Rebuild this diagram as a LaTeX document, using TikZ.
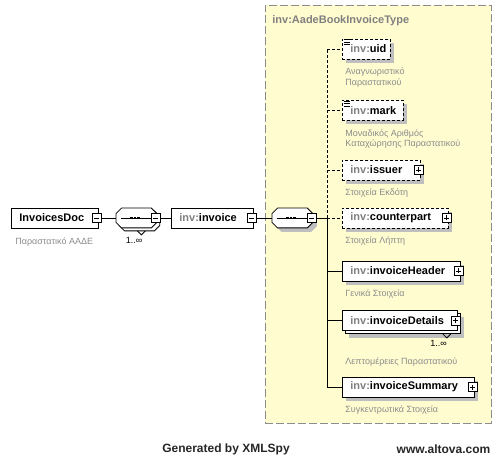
\documentclass[tikz,border=0pt]{standalone}
\usepackage{fontspec}
\setmainfont{Liberation Sans}
\usetikzlibrary{positioning,shadows}
\definecolor{panefill}{RGB}{255,252,208}
\definecolor{nsgray}{RGB}{128,128,128}
\definecolor{notegray}{RGB}{140,140,140}
\newcommand\inv{\textcolor{nsgray}{inv:}}
% octagon of the sequence compositor
\makeatletter
\pgfdeclareshape{octo}{%
	\inheritsavedanchors[from=rectangle]%
	\inheritanchorborder[from=rectangle]%
	\inheritanchor[from=rectangle]{center}%
	\inheritanchor[from=rectangle]{north}%
	\inheritanchor[from=rectangle]{south}%
	\inheritanchor[from=rectangle]{east}%
	\inheritanchor[from=rectangle]{west}%
	\inheritanchor[from=rectangle]{north east}%
	\inheritanchor[from=rectangle]{north west}%
	\inheritanchor[from=rectangle]{south east}%
	\inheritanchor[from=rectangle]{south west}%
	\backgroundpath{%
		\southwest \edef\oct@xa{\the\pgf@x}\edef\oct@ya{\the\pgf@y}%
		\northeast \edef\oct@xb{\the\pgf@x}\edef\oct@yb{\the\pgf@y}%
		\pgfpathmoveto{\pgfpoint{\oct@xa}{\oct@ya+5.5pt}}%
		\pgfpathlineto{\pgfpoint{\oct@xa+5.5pt}{\oct@ya}}%
		\pgfpathlineto{\pgfpoint{\oct@xb-5.5pt}{\oct@ya}}%
		\pgfpathlineto{\pgfpoint{\oct@xb}{\oct@ya+5.5pt}}%
		\pgfpathlineto{\pgfpoint{\oct@xb}{\oct@yb-5.5pt}}%
		\pgfpathlineto{\pgfpoint{\oct@xb-5.5pt}{\oct@yb}}%
		\pgfpathlineto{\pgfpoint{\oct@xa+5.5pt}{\oct@yb}}%
		\pgfpathlineto{\pgfpoint{\oct@xa}{\oct@yb-5.5pt}}%
		\pgfpathclose
	}%
}
\makeatother
\tikzset{%
	elem/.style = {draw,fill=white,anchor=west,minimum height=20pt,inner ysep=0pt,inner xsep=8pt,align=left,font=\fontsize{11}{12}\selectfont\bfseries},
	opt/.style = {dash pattern=on 3pt off 2pt},
	shade/.style = {drop shadow={shadow xshift=4pt,shadow yshift=-4pt,fill=black!25,opacity=1,draw=none}},
	multi/.style = {drop shadow={shadow xshift=7pt,shadow yshift=-7pt,fill=black!25,opacity=1,draw=none},copy shadow={shadow xshift=3pt,shadow yshift=-3pt}},
	sign/.style = {draw,solid,fill=white,minimum size=9pt,inner sep=0pt},
	minus/.style = {sign,path picture={\draw ([xshift=2pt]path picture bounding box.west) -- ([xshift=-2pt]path picture bounding box.east);}},
	plus/.style = {sign,path picture={\draw ([xshift=2pt]path picture bounding box.west) -- ([xshift=-2pt]path picture bounding box.east) ([yshift=2pt]path picture bounding box.south) -- ([yshift=-2pt]path picture bounding box.north);}},
	seq/.style = {octo,draw,fill=white,anchor=west,minimum width=40pt,minimum height=19pt,inner sep=0pt,
		path picture={
			\draw ([xshift=5pt]path picture bounding box.west) -- ([xshift=-5pt]path picture bounding box.east);
			\foreach \d in {-5pt,-1.5pt,2pt}
				\fill[black] ([shift={(\d-1.25pt,1.25pt)}]path picture bounding box.center) rectangle ++(2.5,2.5);
		}},
	note/.style = {text=notegray,align=left,inner sep=0pt,font=\fontsize{9}{10.5}\selectfont},
	pane/.style = {draw=black!45,dash pattern=on 8pt off 3pt,fill=panefill},
	title/.style = {text=nsgray,inner sep=0pt,font=\fontsize{11}{12}\selectfont\bfseries},
	footer/.style = {inner sep=0pt,text=black!85,font=\fontsize{12}{14}\selectfont\bfseries}
}

\begin{document}
\begin{tikzpicture}[x=1pt,y=-1pt,line width=.8pt]
	\useasboundingbox (0,0) rectangle (501,457);
	
	% complex type pane
	\node(pane)[pane,anchor=north west,minimum width=226pt,minimum height=418pt]at(265,5){};
	\node(type)[title,anchor=north west]at([shift={(7pt,-10pt)}]pane.north west){inv:AadeBookInvoiceType};
	
	\node(doc)[elem,text width=71pt]at(11,218){InvoicesDoc};
	\node(docm)[minus]at([xshift=-2pt]doc.east){};
	\node(doctxt)[note,below right=9pt and 4pt of doc.south west]{Παραστατικό ΑΑΔΕ};
	
	\node(seq1)[seq,copy shadow={shadow xshift=3pt,shadow yshift=-3pt}]at(116,218){};
	\node(seq1m)[minus]at([xshift=-1pt]seq1.east){};
	\draw ([shift={(1pt,-3pt)}]seq1.south) -- ++(4,4) -- ++(4,-4);
	\node(seq1n)[note,text=black]at(134,240){1..∞};
	
	\node(invoice)[elem,text width=66pt]at(171,218){\inv invoice};
	\node(invm)[minus]at([xshift=-2pt]invoice.east){};
	
	\node(seq2)[seq,shade]at(272,218){};
	\node(seq2m)[minus]at([xshift=-1pt]seq2.east){};
	\coordinate(rail)at(327,218);
	
	% child elements
	\node(uid)[elem,opt,shade,text width=32pt]at(342,49){\inv uid};
	\node(mark)[elem,opt,shade,text width=45pt]at(342,110.5){\inv mark};
	\node(issuer)[elem,opt,shade,text width=62pt]at(342,170){\inv issuer};
	\node(counterpart)[elem,opt,shade,text width=90pt]at(342,218){\inv counterpart};
	\node(header)[elem,shade,text width=102pt]at(342,271){\inv invoiceHeader};
	\node(details)[elem,multi,text width=99pt]at(342,320.5){\inv invoiceDetails};
	\node(summary)[elem,shade,text width=116pt]at(342,387){\inv invoiceSummary};
	\foreach \n in {issuer,counterpart,header,details,summary}
		\node[plus]at([xshift=-2pt]\n.east){};
	\foreach \n in {uid,mark}
		\foreach \d in {1pt,3.5pt,6pt}
			\draw ([shift={(1.5pt,-\d)}]\n.north west) -- ++(6,0);
	\draw ([shift={(-15pt,-3pt)}]details.south east) -- ++(4,4) -- ++(4,-4);
	\node(detn)[note,text=black]at(438.5,343){1..∞};
	
	\node(uidtxt)[note,below right=8pt and 3pt of uid.south west]{Αναγνωριστικό\\Παραστατικού};
	\node(marktxt)[note,below right=8pt and 3pt of mark.south west]{Μοναδικός Αριθμός\\Καταχώρησης Παραστατικού};
	\node(issuertxt)[note,below right=8pt and 3pt of issuer.south west]{Στοιχεία Εκδότη};
	\node(counterparttxt)[note,below right=8pt and 3pt of counterpart.south west]{Στοιχεία Λήπτη};
	\node(headertxt)[note,below right=8pt and 3pt of header.south west]{Γενικά Στοιχεία};
	\node(detailstxt)[note,below right=26pt and 3pt of details.south west]{Λεπτομέρειες Παραστατικού};
	\node(summarytxt)[note,below right=8pt and 3pt of summary.south west]{Συγκεντρωτικά Στοιχεία};
	
	% connectors
	\draw (docm) -- (seq1);
	\draw (seq1m) -- (invoice);
	\draw (invm) -- (seq2);
	\draw (seq2m) -- (rail);
	\draw[opt] (rail) -- (rail|-uid.west);
	\draw (rail) -- (rail|-summary.west);
	\foreach \n in {uid,mark,issuer,counterpart}
		\draw[opt] (rail|-\n.west) -- (\n);
	\foreach \n in {header,details,summary}
		\draw (rail|-\n.west) -- (\n);
	
	\node(gen)[footer]at(226,449){Generated by XMLSpy};
	\node(web)[footer]at(443.5,449){www.altova.com};
\end{tikzpicture}
\end{document}
